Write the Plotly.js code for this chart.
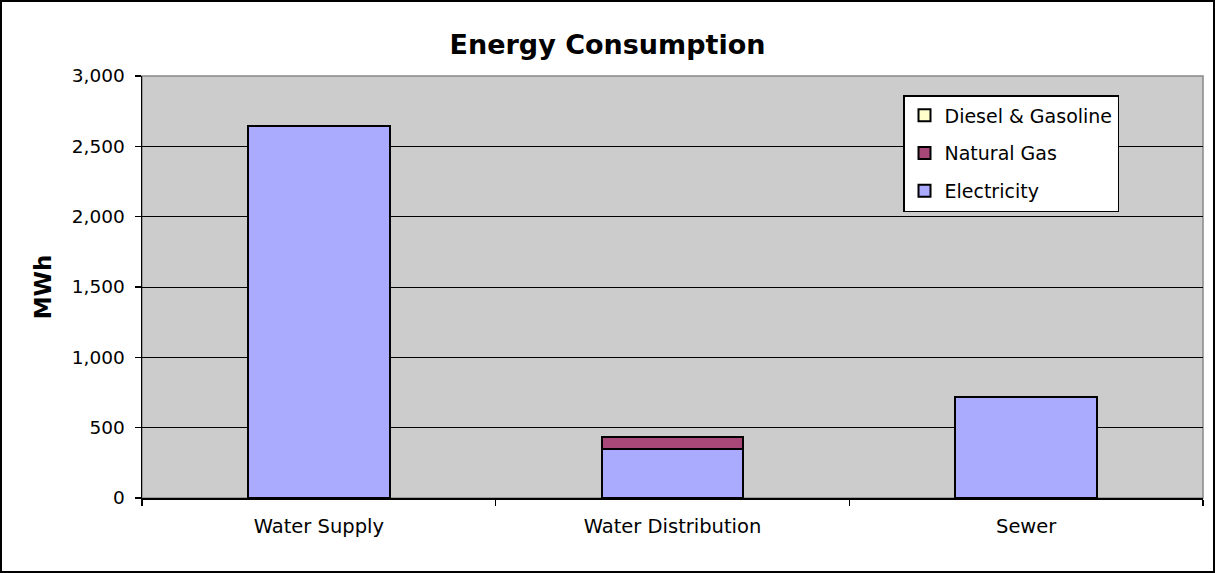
<!DOCTYPE html>
<html>
<head>
<meta charset="utf-8">
<script src="https://cdn.plot.ly/plotly-3.0.1.min.js"></script>
<style>
  html, body { margin: 0; padding: 0; background: #ffffff; }
  #wrap { position: relative; width: 1215px; height: 573px; }
  #chart { position: absolute; left: 0; top: 0; width: 1215px; height: 573px; }
  #frame { position: absolute; left: 0; top: 0; width: 1215px; height: 573px;
           box-sizing: border-box; border: 2px solid #000; pointer-events: none; }
</style>
</head>
<body>
<div id="wrap">
  <div id="chart"></div>
  <div id="frame"></div>
</div>
<script>
const categories = ["Water Supply", "Water Distribution", "Sewer"];
const electricity = [2645, 350, 720];
const naturalGas = [0, 86, 0];
const dieselGasoline = [0, 0, 0];
const seriesNames = ["Electricity", "Natural Gas", "Diesel & Gasoline"];
const yTicks = [0, 500, 1000, 1500, 2000, 2500, 3000];

const FONT = "DejaVu Sans, Liberation Sans, Arial, sans-serif";
const outline = { color: "#000000", width: 2 };

const traces = [
  { type: "bar", name: seriesNames[2], x: categories, y: dieselGasoline, legendgroup: "d",
    marker: { color: "#ffffcc", line: outline }, width: 0.4, legendrank: 1 },
  { type: "bar", name: seriesNames[1], x: categories, y: naturalGas, legendgroup: "g",
    marker: { color: "#a84878", line: outline }, width: 0.4, legendrank: 2 },
  { type: "bar", name: seriesNames[0], x: categories, y: electricity, legendgroup: "e",
    marker: { color: "#aaaaff", line: outline }, width: 0.4, legendrank: 3 }
];
// stacking order: electricity at the bottom
traces.reverse();

const layout = {
  width: 1215, height: 573,
  margin: { l: 142, r: 12, t: 76, b: 75, pad: 0 },
  paper_bgcolor: "#ffffff",
  plot_bgcolor: "#cccccc",
  barmode: "stack",
  bargap: 0.6,
  showlegend: true,
  title: {
    text: "Energy Consumption",
    font: { family: FONT, size: 27, color: "#000000", weight: "bold" },
    x: 0.5, xanchor: "center", xref: "container",
    y: 1 - 45 / 573, yanchor: "middle", yref: "container"
  },
  xaxis: {
    type: "category",
    tickson: "boundaries",
    ticks: "outside", ticklen: 6, tickwidth: 1.5, tickcolor: "#000000",
    ticklabelstandoff: 10,
    showline: true, linecolor: "#000000", linewidth: 1.5,
    showgrid: false, zeroline: false,
    tickfont: { family: FONT, size: 19.5, color: "#000000" },
    automargin: false
  },
  yaxis: {
    range: [0, 3000],
    tickvals: yTicks,
    tickformat: ",",
    ticks: "outside", ticklen: 6, tickwidth: 1.5, tickcolor: "#000000",
    ticklabelstandoff: 6,
    showline: true, linecolor: "#000000", linewidth: 1.5,
    showgrid: true, gridcolor: "#000000", gridwidth: 1,
    zeroline: false,
    tickfont: { family: FONT, size: 18.5, color: "#000000" },
    title: { text: "MWh", font: { family: FONT, size: 23, color: "#000000", weight: "bold" }, standoff: 14 },
    automargin: false
  },
  legend: {
    x: (903 - 142) / 1061, xanchor: "left",
    y: (498 - 95) / 422, yanchor: "top",
    traceorder: "grouped",
    tracegroupgap: 10,
    bgcolor: "#ffffff", bordercolor: "#000000", borderwidth: 1.5,
    font: { family: FONT, size: 19, color: "#000000" },
    itemclick: false
  },
  shapes: [
    { type: "rect", xref: "paper", yref: "paper", x0: 0, x1: 1, y0: 0, y1: 1,
      line: { color: "#888888", width: 1.5 }, layer: "below" }
  ]
};

Plotly.newPlot("chart", traces, layout, { displayModeBar: false, staticPlot: true });
</script>
</body>
</html>
